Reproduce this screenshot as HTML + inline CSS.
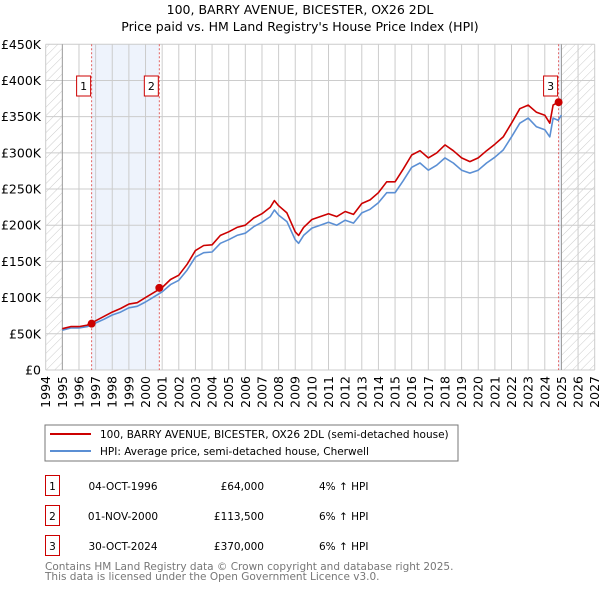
<!DOCTYPE html>
<html><head><meta charset="utf-8"><style>
body{margin:0;background:#fff;font-family:"DejaVu Sans","Liberation Sans",sans-serif;}
svg text{font-family:"DejaVu Sans","Liberation Sans",sans-serif;}
</style></head><body>
<svg id="c" width="600" height="590" viewBox="0 0 600 590" xmlns="http://www.w3.org/2000/svg">
<defs>
<pattern id="hatch" patternUnits="userSpaceOnUse" width="6" height="6" patternTransform="rotate(45)">
<line x1="0" y1="0" x2="0" y2="6" stroke="#ccc" stroke-width="1"/>
</pattern>
</defs>
<text x="300" y="14" text-anchor="middle" font-size="12.5" fill="#000">100, BARRY AVENUE, BICESTER, OX26 2DL</text>
<text x="300" y="31" text-anchor="middle" font-size="12.5" fill="#000">Price paid vs. HM Land Registry's House Price Index (HPI)</text>
<g id="grid"></g>
<g id="marks"></g>
<g id="axes"></g>
<rect x="45" y="425" width="413" height="36" fill="#fff" stroke="#777"/>
<line x1="50" y1="434" x2="91" y2="434" stroke="#cc0000" stroke-width="2"/>
<text x="100" y="438" font-size="10.5">100, BARRY AVENUE, BICESTER, OX26 2DL (semi-detached house)</text>
<line x1="50" y1="451" x2="91" y2="451" stroke="#5b8fd4" stroke-width="2"/>
<text x="100" y="455" font-size="10.5">HPI: Average price, semi-detached house, Cherwell</text>
<g id="table" font-size="10.5"></g>
<text x="45" y="570" font-size="10.5" fill="#777">Contains HM Land Registry data © Crown copyright and database right 2025.</text>
<text x="45" y="580" font-size="10.5" fill="#777">This data is licensed under the Open Government Licence v3.0.</text>
</svg>
<script>
const hpiYears=[1995,1995.5,1996,1996.5,1997,1997.5,1998,1998.5,1999,1999.5,2000,2000.5,2001,2001.5,2002,2002.5,2003,2003.5,2004,2004.5,2005,2005.5,2006,2006.5,2007,2007.5,2007.75,2008,2008.5,2009,2009.2,2009.5,2010,2010.5,2011,2011.5,2012,2012.5,2013,2013.5,2014,2014.5,2015,2015.5,2016,2016.5,2017,2017.5,2018,2018.5,2019,2019.5,2020,2020.5,2021,2021.5,2022,2022.5,2023,2023.5,2024,2024.3,2024.5,2024.8,2025];
const hpiValues=[55,58,58,60,65,70,76,80,86,88,94,101,108,118,124,138,156,162,163,175,180,186,189,198,204,212,221,214,205,180,175,186,196,200,204,200,207,203,217,222,231,245,245,262,280,286,276,283,293,286,276,272,276,286,294,304,322,341,348,336,332,322,348,345,352];
const redValues=[57,60,60,62,68,74,80,85,91,93,100,107,114,125,131,146,165,172,173,186,191,197,200,210,216,225,234,227,217,191,186,197,208,212,216,212,219,215,230,235,245,260,260,278,297,303,293,300,311,303,293,288,293,303,312,322,341,361,366,356,352,341,366,370,373];
const yTicks=[0,50,100,150,200,250,300,350,400,450];
const yTickLabels=["£0","£50K","£100K","£150K","£200K","£250K","£300K","£350K","£400K","£450K"];
const xTicks=[1994,1995,1996,1997,1998,1999,2000,2001,2002,2003,2004,2005,2006,2007,2008,2009,2010,2011,2012,2013,2014,2015,2016,2017,2018,2019,2020,2021,2022,2023,2024,2025,2026,2027];
const saleLabels=["1","2","3"];
const saleYears=[1996.76,2000.83,2024.83];
const salePrices=[64,113.5,370];
const saleDates=["04-OCT-1996","01-NOV-2000","30-OCT-2024"];
const salePriceText=["£64,000","£113,500","£370,000"];
const saleHpiText=["4% ↑ HPI","6% ↑ HPI","6% ↑ HPI"];

const X0=45.7,X1=594.7,Y0=370,Y1=44.3;
const x=t=>X0+(t-1994)/(2027-1994)*(X1-X0);
const y=v=>Y0-v/450*(Y0-Y1);
const NS="http://www.w3.org/2000/svg";
function mk(tag,attrs,parent){const e=document.createElementNS(NS,tag);for(const k in attrs)e.setAttribute(k,attrs[k]);parent.appendChild(e);return e;}
const grid=document.getElementById('grid'),marks=document.getElementById('marks'),axes=document.getElementById('axes'),table=document.getElementById('table');

let r=mk('rect',{x:x(1994),y:Y1,width:x(1995)-x(1994),height:Y0-Y1,fill:'url(#hatch)'},grid);


r=mk('rect',{x:x(2025),y:Y1,width:x(2027)-x(2025),height:Y0-Y1,fill:'url(#hatch)'},grid);


r=mk('rect',{x:x(saleYears[0]),y:Y1,width:x(saleYears[1])-x(saleYears[0]),height:Y0-Y1,fill:'#eef3fc'},grid);


r=mk('rect',{x:x(saleYears[2]),y:Y1,width:x(2025)-x(saleYears[2]),height:Y0-Y1,fill:'#eef3fc'},grid);



yTicks.forEach((v,i)=>{
 const l=mk('line',{x1:X0,x2:X1,y1:y(v),y2:y(v),stroke:'#ccc','stroke-width':1},grid);
 
 
 const t=mk('text',{x:41,y:y(v)+4.5,'text-anchor':'end','font-size':12.5},axes);
 t.textContent=yTickLabels[i];
 
 
});
xTicks.forEach(yr=>{
 const l=mk('line',{x1:x(yr),x2:x(yr),y1:Y1,y2:Y0,stroke:(yr===1995||yr===2025)?'#999':'#ccc','stroke-width':1},grid);
 
 
 const t=mk('text',{x:0,y:0,'text-anchor':'end','font-size':12.5,transform:`translate(${x(yr)+4.5},${Y0+6}) rotate(-90)`},axes);
 t.textContent=yr;
 
 
});
saleYears.forEach((s,i)=>{
 const l=mk('line',{x1:x(s),x2:x(s),y1:Y1,y2:Y0,stroke:'#e06060','stroke-width':1,'stroke-dasharray':'2,2'},grid);
 
 
});

const pts=(vals)=>hpiYears.map((t,i)=>x(t).toFixed(1)+','+y(vals[i]).toFixed(1)).join(' ');
let p=mk('polyline',{points:pts(hpiValues),fill:'none',stroke:'#5b8fd4','stroke-width':1.6,'stroke-linejoin':'round'},marks);


p=mk('polyline',{points:pts(redValues),fill:'none',stroke:'#cc0000','stroke-width':1.6,'stroke-linejoin':'round'},marks);



saleYears.forEach((s,i)=>{
 const c=mk('circle',{cx:x(s),cy:y(salePrices[i]),r:4,fill:'#cc0000'},marks);
 
 
 const bx=x(s)-15, by=76;
 const b=mk('rect',{x:bx,y:by,width:14,height:20,fill:'#fff',stroke:'#cc0000','stroke-width':1},marks);
 
 
 const t=mk('text',{x:bx+7,y:by+14,'text-anchor':'middle','font-size':11},marks);
 t.textContent=saleLabels[i];
 
 

 const ry=475+i*30;
 const tb=mk('rect',{x:45.5,y:ry+0.5,width:14,height:20,fill:'#fff',stroke:'#cc0000','stroke-width':1},table);
 
 
 const tl=mk('text',{x:52.5,y:ry+15,'text-anchor':'middle'},table);
 tl.textContent=saleLabels[i];
 
 
 const td=mk('text',{x:123,y:ry+15,'text-anchor':'middle'},table);
 td.textContent=saleDates[i];
 
 
 const tp=mk('text',{x:264,y:ry+15,'text-anchor':'end'},table);
 tp.textContent=salePriceText[i];
 
 
 const th=mk('text',{x:319,y:ry+15},table);
 th.textContent=saleHpiText[i];
 
 
});
</script>
</body></html>
